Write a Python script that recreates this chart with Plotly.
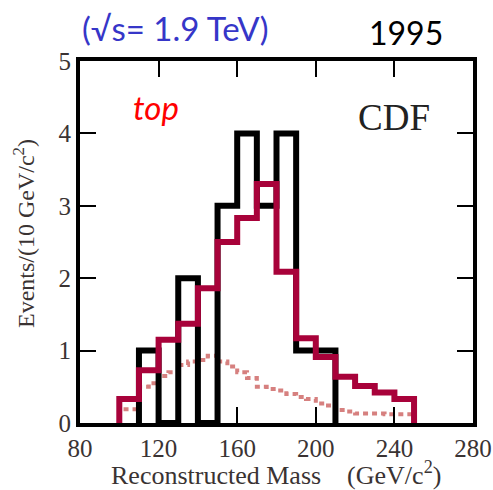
import plotly.graph_objects as go

# ---- data ----
data_edges = [110, 120, 130, 140, 150, 160, 170, 180, 190, 200, 210]
data_counts = [1, 0, 2, 0, 3, 4, 3, 4, 1, 1]

fit_edges = [100, 110, 120, 130, 140, 150, 160, 170, 180, 190, 200, 210, 220, 230, 240, 250]
fit_counts = [0.33, 0.73, 1.15, 1.37, 1.86, 2.50, 2.83, 3.30, 2.09, 1.17, 0.91, 0.64, 0.51, 0.42, 0.33]

bg_edges = [100 + 5 * i for i in range(31)]
bg_counts = [0.19, 0.19, 0.50, 0.55, 0.65, 0.70, 0.80, 0.85, 0.87, 0.93,
             0.85, 0.78, 0.70, 0.62, 0.50, 0.47, 0.45, 0.40, 0.36, 0.33,
             0.27, 0.24, 0.18, 0.16, 0.13, 0.13, 0.13, 0.12, 0.12, 0.12]

x_ticks = [80, 120, 160, 200, 240, 280]
y_ticks = [0, 1, 2, 3, 4, 5]

SERIF = "Liberation Serif"
SANS = "Lato"

fig = go.Figure()

# background (dotted)
fig.add_trace(go.Scatter(
    x=[bg_edges[0]] + bg_edges, y=[0] + bg_counts + [bg_counts[-1]],
    mode="lines", line=dict(shape="hv", color="#d6807f", width=4, dash="5px,4px"),
    showlegend=False, hoverinfo="skip"))

# data histogram (black)
fig.add_trace(go.Scatter(
    x=[data_edges[0]] + data_edges, y=[0] + data_counts + [0],
    mode="lines", line=dict(shape="hv", color="black", width=6),
    showlegend=False, hoverinfo="skip"))

# top + background (red)
fig.add_trace(go.Scatter(
    x=[fit_edges[0]] + fit_edges, y=[0] + fit_counts + [0],
    mode="lines", line=dict(shape="hv", color="#a8023a", width=6),
    showlegend=False, hoverinfo="skip"))

L, R, T, B = 80, 20, 61, 67
W, H = 493, 490
pw, ph = W - L - R, H - T - B

def px2paper(px, py):
    return (px - L) / pw, (H - B - py) / ph

annots = []
x, y = px2paper(80, 28)
annots.append(dict(x=x, y=y, xref="paper", yref="paper", xanchor="left", yanchor="middle",
                   text="(√s= 1.9 TeV)", showarrow=False,
                   font=dict(family=SANS, size=33, color="#3636c8")))
x, y = px2paper(406, 33)
annots.append(dict(x=x, y=y, xref="paper", yref="paper", xanchor="center", yanchor="middle",
                   text="1995", showarrow=False,
                   font=dict(family=SANS, size=32, color="black")))
x, y = px2paper(131, 107)
annots.append(dict(x=x, y=y, xref="paper", yref="paper", xanchor="left", yanchor="middle",
                   text="<i>top</i>", showarrow=False,
                   font=dict(family=SANS, size=33, color="#ff0000")))
x, y = px2paper(394, 117)
annots.append(dict(x=x, y=y, xref="paper", yref="paper", xanchor="center", yanchor="middle",
                   text="CDF", showarrow=False,
                   font=dict(family=SERIF, size=37, color="#222222")))
x, y = px2paper(24, 234)
annots.append(dict(x=x, y=y, xref="paper", yref="paper", xanchor="center", yanchor="middle",
                   text="Events/(10 GeV/c<sup>2</sup>)", showarrow=False, textangle=-90,
                   font=dict(family=SERIF, size=24, color="#3a3333")))
x, y = px2paper(276, 474)
annots.append(dict(x=x, y=y, xref="paper", yref="paper", xanchor="center", yanchor="middle",
                   text="Reconstructed Mass\u00a0\u00a0\u00a0\u00a0(GeV/c<sup>2</sup>)", showarrow=False,
                   font=dict(family=SERIF, size=26, color="#3a3333")))

fig.update_layout(
    width=W, height=H,
    margin=dict(l=L, r=R, t=T, b=B, autoexpand=False),
    paper_bgcolor="white", plot_bgcolor="white",
    annotations=annots,
    xaxis=dict(range=[80, 280], tickvals=x_ticks, ticktext=[str(v) for v in x_ticks],
               ticks="inside", ticklen=16, tickwidth=1.5, tickcolor="black",
               showline=True, linewidth=4, linecolor="black", mirror="ticks",
               showgrid=False, zeroline=False, automargin=False,
               tickfont=dict(family=SERIF, size=25, color="#3a3333")),
    yaxis=dict(range=[0, 5], tickvals=y_ticks, ticktext=[str(v) for v in y_ticks],
               ticks="inside", ticklen=16, tickwidth=1.5, tickcolor="black",
               showline=True, linewidth=4, linecolor="black", mirror="ticks",
               showgrid=False, zeroline=False, automargin=False,
               tickfont=dict(family=SERIF, size=25, color="#3a3333")),
)

fig.write_html("out.html")
